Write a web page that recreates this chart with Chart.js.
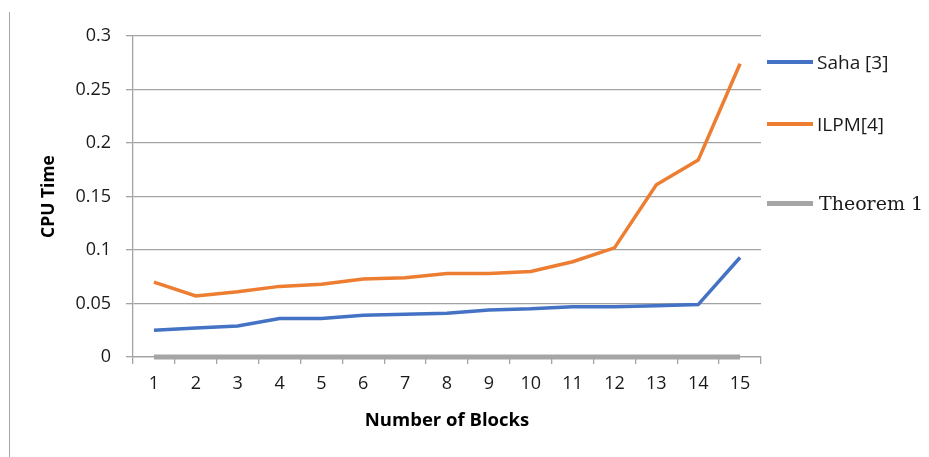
<!DOCTYPE html>
<html>
<head>
<meta charset="utf-8">
<script src="https://cdn.jsdelivr.net/npm/chart.js@4.4.1/dist/chart.umd.min.js"></script>
<style>
  html, body { margin: 0; padding: 0; background: #fff; }
  #wrap { position: relative; width: 929px; height: 457px; overflow: hidden; }
  #frame { position: absolute; left: 9px; top: 12px; height: 445px; border-left: 1.5px solid #a6a6a6; }
  #chart { position: absolute; left: 0; top: 0; }
  .leg { position: absolute; left: 767px; display: flex; align-items: center; white-space: nowrap; color: #1a1a1a; }
  .sw { width: 46px; }
</style>
</head>
<body>
<div id="wrap">
  <div id="frame"></div>
  <canvas id="chart" width="929" height="457"></canvas>
  <div id="legend"></div>
</div>
<script>
// Number of blocks on the x axis
const blocks = ['1', '2', '3', '4', '5', '6', '7', '8', '9', '10', '11', '12', '13', '14', '15'];

// CPU time per method
const sahaTimes = [0.025, 0.027, 0.029, 0.036, 0.036, 0.039, 0.040, 0.041, 0.044, 0.045, 0.047, 0.047, 0.048, 0.049, 0.093];
const ilpmTimes = [0.070, 0.057, 0.061, 0.066, 0.068, 0.073, 0.074, 0.078, 0.078, 0.080, 0.089, 0.102, 0.161, 0.184, 0.274];
const theoremTimes = [0, 0, 0, 0, 0, 0, 0, 0, 0, 0, 0, 0, 0, 0, 0];

// Value-axis tick labels
const yTickLabels = ['0', '0.05', '0.1', '0.15', '0.2', '0.25', '0.3'];

const seriesNames = ['Saha [3]', 'ILPM[4]', 'Theorem 1'];
const seriesColors = ['#4472C4', '#ED7D31', '#A5A5A5'];

const gridColor = '#a3a3a3';
const textColor = '#1a1a1a';
const sansFont = '"Open Sans", Lato, sans-serif';

const ctx = document.getElementById('chart').getContext('2d');
new Chart(ctx, {
  type: 'line',
  data: {
    labels: blocks,
    datasets: [
      { label: seriesNames[0], data: sahaTimes, borderColor: seriesColors[0], borderWidth: 3.5 },
      { label: seriesNames[1], data: ilpmTimes, borderColor: seriesColors[1], borderWidth: 3.5 },
      { label: seriesNames[2], data: theoremTimes, borderColor: seriesColors[2], borderWidth: 5 }
    ].map(d => Object.assign(d, { pointRadius: 0, pointHoverRadius: 0, tension: 0, fill: false, clip: 8 }))
  },
  options: {
    responsive: false,
    animation: false,
    events: [],
    layout: { padding: { left: 30, right: 168, top: 36, bottom: 0 } },
    plugins: {
      legend: { display: false },
      tooltip: { enabled: false }
    },
    scales: {
      x: {
        type: 'category',
        offset: true,
        grid: {
          display: true,
          drawOnChartArea: false,
          drawTicks: true,
          tickLength: 7,
          color: gridColor,
          lineWidth: 1.3,
          offset: true
        },
        border: { display: true, color: gridColor, width: 1.3 },
        ticks: {
          color: textColor,
          font: { family: sansFont, size: 18 },
          padding: 9,
          maxRotation: 0,
          autoSkip: false
        },
        title: {
          display: true,
          text: 'Number of Blocks',
          color: '#000',
          font: { family: sansFont, size: 18.5, weight: 'bold' },
          padding: { top: 0, bottom: 25 }
        },
        afterFit: s => { s.height = 100; }
      },
      y: {
        min: 0,
        max: 0.3,
        grid: {
          color: gridColor,
          lineWidth: 1.3,
          tickLength: 7,
          drawTicks: true
        },
        border: { display: true, color: gridColor, width: 1.3 },
        ticks: {
          stepSize: 0.05,
          color: textColor,
          font: { family: sansFont, size: 18 },
          padding: 15,
          callback: (v, i) => yTickLabels[i]
        },
        title: {
          display: true,
          text: 'CPU Time',
          color: '#000',
          font: { family: sansFont, size: 17.5, weight: 'bold' },
          padding: { top: 9, bottom: 0 }
        },
        afterFit: s => { s.width = 103; }
      }
    }
  }
});

// Legend on the right-hand side
const legendRows = [
  { y: 62, font: '19px ' + sansFont, thick: 3.5, gap: 4 },
  { y: 124, font: '19px ' + sansFont, thick: 3.5, gap: 4 },
  { y: 203, font: '19px "DejaVu Serif", "Liberation Serif", serif', thick: 5, gap: 6 }
];
const legend = document.getElementById('legend');
seriesNames.forEach((name, i) => {
  const r = legendRows[i];
  const row = document.createElement('div');
  row.className = 'leg';
  row.style.top = (r.y - 14) + 'px';
  row.style.height = '28px';
  row.style.font = r.font;
  const sw = document.createElement('span');
  sw.className = 'sw';
  sw.style.height = r.thick + 'px';
  sw.style.marginRight = r.gap + 'px';
  sw.style.background = seriesColors[i];
  const txt = document.createElement('span');
  txt.textContent = name;
  row.appendChild(sw);
  row.appendChild(txt);
  legend.appendChild(row);
});
</script>
</body>
</html>
